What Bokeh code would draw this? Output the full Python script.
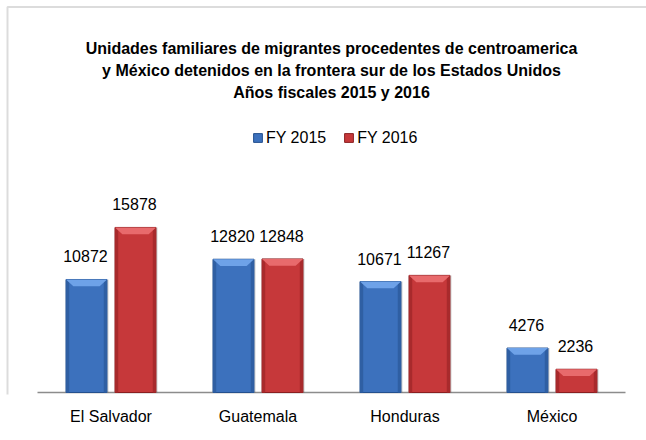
from bokeh.plotting import figure
from bokeh.models import (Range1d, ColumnDataSource, Label, Legend, LegendItem,
                          LabelSet, BoxAnnotation, FixedTicker)
from bokeh.transform import dodge
from bokeh.core.properties import value
from bokeh.embed import file_html
from bokeh.resources import INLINE

# ---- data ----
categories = ["El Salvador", "Guatemala", "Honduras", "México"]
fy2015 = [10872, 12820, 10671, 4276]
fy2016 = [15878, 12848, 11267, 2236]
series_names = ["FY 2015", "FY 2016"]
title_lines = [
    "Unidades familiares de migrantes procedentes de centroamerica",
    "y México detenidos en la frontera sur de los Estados Unidos",
    "Años fiscales 2015 y 2016",
]

# ---- styles / layout ----
FONT = "Liberation Sans"
BLUE, BLUE_DARK, BLUE_LIGHT, BLUE_EDGE = "#3c71bd", "#24508e", "#6ea2e8", "#2f5fa3"
RED, RED_DARK, RED_LIGHT, RED_EDGE = "#c6383a", "#8a1f21", "#e86a6c", "#a82a2c"
BEVEL_H = 650        # data units of the top bevel
BEVEL_IN = 0.05      # category units of the bevel inset
PX_PER_CAT = 147.0   # pixels per category slot
LEFT_PAD = 37.0      # pixels left of the first category slot
PX_PER_UNIT = 96.2   # data units per pixel (vertical)
W_FIG, H_FIG = 646, 440
FRAME_BOTTOM = 394   # page y of frame bottom
BASELINE = 392       # page y of value 0
W = 0.279            # bar width, category units
D = 0.1667           # series offset, category units
EDGE = 0.022         # darker side strip width

n = len(categories)
xpos = [i + 0.5 for i in range(n)]

src = ColumnDataSource(dict(
    x=xpos,
    fy2015=fy2015,
    fy2016=fy2016,
    fy2015_t=[str(v) for v in fy2015],
    fy2016_t=[str(v) for v in fy2016],
))


def bevel_shapes(values, off):
    xs, ys = [], []
    for x, v in zip(xpos, values):
        xl, xr = x + off - W / 2, x + off + W / 2
        h = min(BEVEL_H, v * 0.45)
        xs.append([xl, xr, xr - BEVEL_IN, xl + BEVEL_IN])
        ys.append([v, v, v - h, v - h])
    return xs, ys


x_range = Range1d(-LEFT_PAD / PX_PER_CAT, (W_FIG - LEFT_PAD) / PX_PER_CAT)
y_range = Range1d(-(FRAME_BOTTOM - BASELINE) * PX_PER_UNIT, BASELINE * PX_PER_UNIT)

p = figure(width=W_FIG, height=H_FIG, x_range=x_range, y_range=y_range,
           output_backend="svg", toolbar_location=None,
           min_border_left=0, min_border_right=0, min_border_top=0,
           min_border_bottom=H_FIG - FRAME_BOTTOM)
p.outline_line_color = None
p.xgrid.visible = False
p.ygrid.visible = False
p.yaxis.visible = False
p.background_fill_color = "white"
p.border_fill_color = "white"

ax = p.xaxis[0]
ax.ticker = FixedTicker(ticks=xpos)
ax.major_label_overrides = {x: c for x, c in zip(xpos, categories)}
ax.axis_line_color = None
ax.major_tick_line_color = None
ax.minor_tick_line_color = None
ax.major_label_text_font = FONT
ax.major_label_text_font_size = "16px"
ax.major_label_text_color = "black"
ax.major_label_standoff = 7

# category axis baseline
p.segment(x0=[0], x1=[n], y0=[0], y1=[0], line_color="#8c8c8c", line_width=1.5)

renderers = []
for col, vals, off, base, dark, light, edge in (
        ("fy2015", fy2015, -D, BLUE, BLUE_DARK, BLUE_LIGHT, BLUE_EDGE),
        ("fy2016", fy2016, D, RED, RED_DARK, RED_LIGHT, RED_EDGE)):
    # soft shadow on the right
    p.vbar(x=dodge("x", off + 0.012), top=col, width=W, source=src,
           fill_color="#000000", fill_alpha=0.12, line_color=None)
    r = p.vbar(x=dodge("x", off), top=col, width=W, source=src,
               fill_color=base, line_color=dark, line_width=1)
    renderers.append(r)
    # darker side strips
    p.vbar(x=dodge("x", off - W / 2 + EDGE / 2), top=col, width=EDGE,
           source=src, fill_color=edge, line_color=None)
    p.vbar(x=dodge("x", off + W / 2 - EDGE / 2), top=col, width=EDGE,
           source=src, fill_color=edge, line_color=None)
    # lighter top bevel
    bxs, bys = bevel_shapes(vals, off)
    p.patches(xs=bxs, ys=bys, fill_color=light, line_color=None)
    # data labels
    p.add_layout(LabelSet(x=dodge("x", off - 0.007), y=col, text=col + "_t",
                          source=src, y_offset=17, text_align="center",
                          text_baseline="alphabetic", text_font=value(FONT),
                          text_font_size="16px", text_color="black"))

# title (frame-relative screen units, measured from the frame bottom)
for line, base in zip(title_lines, (48, 70, 92)):
    p.add_layout(Label(x=331, y=FRAME_BOTTOM - base, x_units="screen",
                       y_units="screen", text=line, text_align="center",
                       text_baseline="alphabetic", text_font=FONT,
                       text_font_size="16px", text_font_style="bold",
                       text_color="black"))

legend = Legend(items=[LegendItem(label=series_names[0], renderers=[renderers[0]]),
                       LegendItem(label=series_names[1], renderers=[renderers[1]])],
                orientation="horizontal", location=(252, FRAME_BOTTOM - 146.5),
                glyph_width=11, glyph_height=11, label_standoff=3, spacing=17,
                padding=0, margin=0, border_line_color=None,
                background_fill_alpha=0,
                label_text_font=FONT, label_text_font_size="16px",
                label_text_color="black")
p.add_layout(legend, "center")

# outer chart frame (only its top and left edges fall inside the window)
p.add_layout(BoxAnnotation(left=7, right=900, top=FRAME_BOTTOM - 6.5, bottom=-300,
                           left_units="screen", right_units="screen",
                           top_units="screen", bottom_units="screen",
                           fill_alpha=0, line_color="#8a8a8a", line_width=2))

open("out.html", "w").write(file_html(p, INLINE))
